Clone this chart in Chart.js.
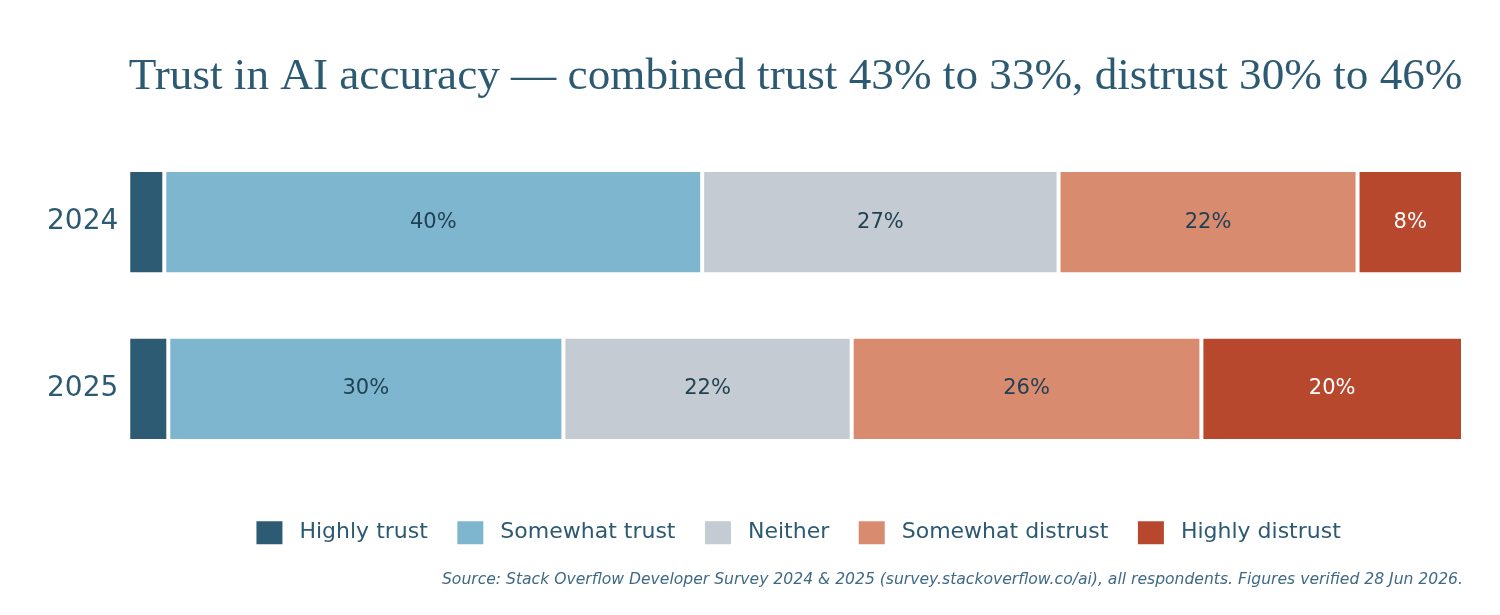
<!DOCTYPE html>
<html>
<head>
<meta charset="utf-8">
<script src="https://cdn.jsdelivr.net/npm/chart.js@4"></script>
<style>
  html, body { margin: 0; padding: 0; background: #ffffff; }
  #wrap { width: 1500px; height: 615px; position: relative; }
</style>
</head>
<body>
<div id="wrap"><canvas id="c" width="1500" height="615"></canvas></div>
<script>
const categories = ["2024", "2025"];
const seriesNames = ["Highly trust", "Somewhat trust", "Neither", "Somewhat distrust", "Highly distrust"];
const highlyTrust = [2.7, 3.0];
const somewhatTrust = [40.3, 29.6];
const neither = [26.7, 21.6];
const somewhatDistrust = [22.4, 26.2];
const highlyDistrust = [7.9, 19.6];
const seriesColors = ["#2d5b73", "#7eb6d0", "#c4cbd2", "#d88b6f", "#b8482d"];
const labelColors = ["#ffffff", "#1f3f52", "#1f3f52", "#1f3f52", "#ffffff"];
const titleText = "Trust in AI accuracy \u2014 combined trust 43% to 33%, distrust 30% to 46%";
const sourceText = "Source: Stack Overflow Developer Survey 2024 & 2025 (survey.stackoverflow.co/ai), all respondents. Figures verified 28 Jun 2026.";

const seriesValues = [highlyTrust, somewhatTrust, neither, somewhatDistrust, highlyDistrust];

const barLabels = {
  id: 'barLabels',
  afterDatasetsDraw(chart) {
    const ctx = chart.ctx;
    ctx.save();
    ctx.font = '21px "DejaVu Sans"';
    ctx.textAlign = 'center';
    ctx.textBaseline = 'middle';
    chart.data.datasets.forEach((ds, i) => {
      const meta = chart.getDatasetMeta(i);
      meta.data.forEach((bar, j) => {
        const v = ds.data[j];
        const w = Math.abs(bar.x - bar.base);
        if (w < 50) return;
        ctx.fillStyle = labelColors[i];
        ctx.fillText(Math.round(v) + '%', (bar.x + bar.base) / 2, bar.y);
      });
    });
    ctx.restore();
  }
};

new Chart(document.getElementById('c'), {
  type: 'bar',
  data: {
    labels: categories,
    datasets: seriesNames.map((name, i) => ({
      label: name,
      data: seriesValues[i],
      backgroundColor: seriesColors[i],
      borderColor: '#ffffff',
      borderWidth: 2,
      borderSkipped: false,
      barPercentage: 1.0,
      categoryPercentage: 0.625
    }))
  },
  options: {
    indexAxis: 'y',
    responsive: false,
    animation: false,
    devicePixelRatio: 1,
    layout: { padding: { left: 45, right: 37, top: 0, bottom: 0 } },
    scales: {
      x: {
        stacked: true, min: 0, max: 100, display: true,
        ticks: { display: false },
        grid: { display: false, drawTicks: false },
        border: { display: false },
        afterFit(s) { s.height = 19.5; }
      },
      y: {
        stacked: true,
        grid: { display: false },
        border: { display: false },
        ticks: { color: '#2d5a73', font: { family: 'DejaVu Sans', size: 28 }, padding: 2 }
      }
    },
    plugins: {
      title: {
        display: true,
        text: titleText,
        fullSize: false,
        color: '#2d5a73',
        font: { family: '"Liberation Serif", serif', size: 45.2, weight: 'normal', lineHeight: 1.2 },
        padding: { top: 50, bottom: 34.5 }
      },
      subtitle: {
        display: true,
        text: sourceText,
        position: 'bottom',
        align: 'end',
        fullSize: false,
        color: '#3f6a85',
        font: { family: 'DejaVu Sans', size: 15.6, style: 'italic', lineHeight: 1.2 },
        padding: { top: 10.2, bottom: 25.8 }
      },
      legend: {
        position: 'bottom',
        fullSize: false,
        labels: {
          color: '#2d5a73',
          font: { family: 'DejaVu Sans', size: 22 },
          boxWidth: 38,
          boxHeight: 35,
          padding: 23.5,
          generateLabels(chart) {
            const items = Chart.defaults.plugins.legend.labels.generateLabels(chart);
            items.forEach(it => { it.lineWidth = 12; it.strokeStyle = '#ffffff'; });
            return items;
          }
        }
      },
      tooltip: { enabled: false }
    }
  },
  plugins: [barLabels]
});
</script>
</body>
</html>
